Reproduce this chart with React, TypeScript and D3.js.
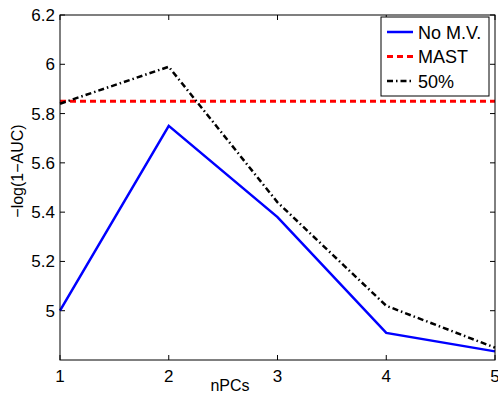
import React from 'react';
import * as d3 from 'd3';

const nPCs = [1, 2, 3, 4, 5];
const noMV = [5.0, 5.75, 5.38, 4.91, 4.835];
const half = [5.84, 5.99, 5.44, 5.02, 4.85];
const mast = 5.85;
const xTicks = [1, 2, 3, 4, 5];
const yTicks = [5, 5.2, 5.4, 5.6, 5.8, 6, 6.2];

const W = 498;
const H = 394;
const left = 60, right = 495, top = 15, bottom = 360;
const font = 'Liberation Sans, Arial, sans-serif';

export default function App() {
  const x = d3.scaleLinear().domain([1, 5]).range([left, right]);
  const y = d3.scaleLinear().domain([4.8, 6.2]).range([bottom, top]);
  const line = d3.line<number>().x((_, i) => x(nPCs[i])).y(d => y(d));

  const legend = [
    { label: 'No M.V.', color: '#0000ff', dash: undefined, width: 2.5 },
    { label: 'MAST', color: '#ff0000', dash: '6,4', width: 3 },
    { label: '50%', color: '#000000', dash: '6,3,1.5,3', width: 2.5 },
  ];

  return (
    <svg width={W} height={H} style={{ position: 'absolute', left: 0, top: 0, background: '#fff' }}>
      <rect x={0} y={0} width={W} height={H} fill="#fff" />
      <g fontFamily={font} fontSize={17} fill="#000">
        {xTicks.map(t => (
          <g key={'x' + t}>
            <line x1={x(t)} x2={x(t)} y1={bottom} y2={bottom - 5} stroke="#000" />
            <line x1={x(t)} x2={x(t)} y1={top} y2={top + 5} stroke="#000" />
            <text x={x(t)} y={382} textAnchor="middle">{t}</text>
          </g>
        ))}
        {yTicks.map(t => (
          <g key={'y' + t}>
            <line x1={left} x2={left + 5} y1={y(t)} y2={y(t)} stroke="#000" />
            <line x1={right} x2={right - 5} y1={y(t)} y2={y(t)} stroke="#000" />
            <text x={55} y={y(t) + 6} textAnchor="end">{t === 6 ? '6' : t.toFixed(1).replace(/\.0$/, '')}</text>
          </g>
        ))}
        <text x={230} y={391} textAnchor="middle" fontSize={16}>nPCs</text>
        <text transform={`translate(23,171) rotate(-90)`} textAnchor="middle" fontSize={16}>−log(1−AUC)</text>
      </g>

      <line x1={left} x2={right} y1={y(mast)} y2={y(mast)} stroke="#ff0000" strokeWidth={3} strokeDasharray="6,4" />
      <path d={line(half) ?? ''} fill="none" stroke="#000" strokeWidth={2.5} strokeDasharray="6,3,1.5,3" />
      <path d={line(noMV) ?? ''} fill="none" stroke="#0000ff" strokeWidth={2.5} />

      <rect x={left} y={top} width={right - left} height={bottom - top} fill="none" stroke="#000" strokeWidth={1} />

      <g>
        <rect x={381} y={17} width={108} height={79} fill="#fff" stroke="#000" strokeWidth={1} />
        {legend.map((l, i) => {
          const ly = 32 + i * 24.5;
          return (
            <g key={l.label}>
              <line x1={387} x2={413} y1={ly} y2={ly} stroke={l.color} strokeWidth={l.width} strokeDasharray={l.dash} />
              <text x={418} y={ly + 6.5} fontFamily={font} fontSize={18}>{l.label}</text>
            </g>
          );
        })}
      </g>
    </svg>
  );
}
